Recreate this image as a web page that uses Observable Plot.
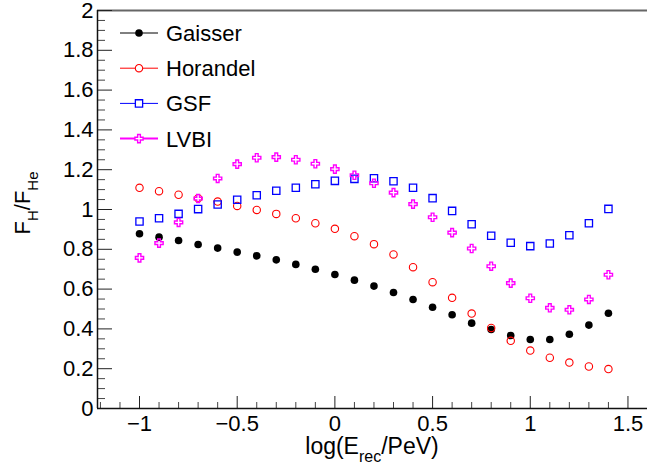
<!DOCTYPE html>
<html><head><meta charset="utf-8">
<script src="https://cdn.jsdelivr.net/npm/d3@7"></script>
<script src="https://cdn.jsdelivr.net/npm/@observablehq/plot@0.6"></script>
<style>
html,body{margin:0;padding:0;background:#fff;}
#chart{position:relative;width:647px;height:470px;}
</style></head><body><div id="chart"></div>
<script>
// ---- data ----
const logE = [-1.0,-0.9,-0.8,-0.7,-0.6,-0.5,-0.4,-0.3,-0.2,-0.1,0.0,0.1,0.2,0.3,0.4,0.5,0.6,0.7,0.8,0.9,1.0,1.1,1.2,1.3,1.4];
const gaisser  = [0.878,0.861,0.844,0.824,0.806,0.786,0.767,0.747,0.724,0.700,0.673,0.645,0.615,0.583,0.548,0.509,0.471,0.429,0.397,0.367,0.347,0.347,0.373,0.419,0.479];
const horandel = [1.109,1.092,1.074,1.057,1.040,1.018,0.998,0.978,0.956,0.931,0.903,0.866,0.826,0.774,0.710,0.635,0.556,0.477,0.405,0.340,0.291,0.255,0.231,0.211,0.198];
const gsf      = [0.940,0.956,0.978,1.002,1.025,1.049,1.072,1.094,1.109,1.127,1.144,1.154,1.157,1.142,1.109,1.057,0.993,0.926,0.868,0.833,0.816,0.829,0.871,0.931,1.003];
const lvbi     = [0.757,0.831,0.935,1.055,1.156,1.228,1.260,1.263,1.250,1.230,1.203,1.172,1.132,1.085,1.027,0.961,0.884,0.804,0.715,0.630,0.554,0.506,0.496,0.548,0.672];
const seriesNames = ["Gaisser","Horandel","GSF","LVBI"];
const xMajor = [-1,-0.5,0,0.5,1,1.5];
const xTickLabels = ["\u22121","\u22120.5","0","0.5","1","1.5"];
const yMajor = [0,0.2,0.4,0.6,0.8,1,1.2,1.4,1.6,1.8,2];
const yTickLabels = ["0","0.2","0.4","0.6","0.8","1","1.2","1.4","1.6","1.8","2"];
const xDomain = [-1.215, 1.6];
const yDomain = [0, 2];

// ---- symbols ----
const openCross = {draw(context, size) {
  const r = Math.sqrt(size / Math.PI), a = r / 3;
  context.moveTo(-a,-r); context.lineTo(a,-r); context.lineTo(a,-a); context.lineTo(r,-a);
  context.lineTo(r,a); context.lineTo(a,a); context.lineTo(a,r); context.lineTo(-a,r);
  context.lineTo(-a,a); context.lineTo(-r,a); context.lineTo(-r,-a); context.lineTo(-a,-a);
  context.closePath();
}};
const styles = [
  {symbol: d3.symbolCircle, r: 3.8, fill: "black", stroke: "none", sw: 0, color: "black", lw: 1},
  {symbol: d3.symbolCircle, r: 3.7, fill: "none", stroke: "#ff0000", sw: 1.1, color: "#ff0000", lw: 1},
  {symbol: d3.symbolSquare, r: 4.1, fill: "none", stroke: "#0000ff", sw: 1.3, color: "#0000ff", lw: 1},
  {symbol: openCross, r: 4.1, fill: "none", stroke: "#ff00ff", sw: 1.4, color: "#ff00ff", lw: 2}
];
const values = [gaisser, horandel, gsf, lvbi];
const rows = [];
values.forEach((vals, s) => logE.forEach((x, i) => rows.push({x, y: vals[i], s})));

const yMinor = d3.range(0, 2.0001, 0.05).map(v => +v.toFixed(2)).filter(v => !yMajor.some(m => Math.abs(m - v) < 1e-9));
const xMinor = d3.range(-1.2, 1.61, 0.1).map(v => +v.toFixed(1)).filter(v => !xMajor.some(m => Math.abs(m - v) < 1e-9));
const fmt = (ticks, labels) => d => labels[ticks.findIndex(t => Math.abs(t - d) < 1e-9)];

const font = "'Liberation Sans', Arial, Helvetica, sans-serif";
const plot = Plot.plot({
  width: 647, height: 470,
  marginLeft: 97, marginRight: 0, marginTop: 10, marginBottom: 62,
  style: {fontFamily: font, fontSize: "22px", background: "white", overflow: "visible", color: "black"},
  x: {domain: xDomain},
  y: {domain: yDomain},
  marks: [
    Plot.ruleY([yDomain[1]], {stroke: "#666", strokeWidth: 2}),
    Plot.axisY({ticks: yMinor, tickSize: -8, tickFormat: () => "", label: null, stroke: "#444"}),
    Plot.axisY({ticks: yMajor, tickSize: -15, tickFormat: () => "", label: null, stroke: "#222"}),
    Plot.axisY({ticks: yMajor, tickSize: 0, tickPadding: 4, tickFormat: fmt(yMajor, yTickLabels), label: null, fontSize: 22}),
    Plot.axisX({ticks: xMinor, tickSize: -6, tickFormat: () => "", label: null, stroke: "#444"}),
    Plot.axisX({ticks: xMajor, tickSize: -12, tickFormat: () => "", label: null, stroke: "#222"}),
    Plot.axisX({ticks: xMajor, tickSize: 0, tickPadding: 7, tickFormat: fmt(xMajor, xTickLabels), label: null, fontSize: 22}),
    Plot.ruleX([xDomain[0]], {stroke: "#111", strokeWidth: 1.5}),
    Plot.ruleY([yDomain[0]], {stroke: "#111", strokeWidth: 1.5}),
    ...styles.map((st, s) => Plot.dot(rows.filter(d => d.s === s), {
      x: "x", y: "y", symbol: st.symbol, r: st.r, fill: st.fill, stroke: st.stroke, strokeWidth: st.sw
    }))
  ]
});
document.getElementById("chart").appendChild(plot);

// ---- legend & titles ----
const svg = d3.select(plot);
const leg = svg.append("g").attr("font-family", font).attr("font-size", 22).attr("text-anchor", "start");
seriesNames.forEach((name, i) => {
  const st = styles[i];
  const y = 33 + i * 35.2;
  leg.append("line").attr("x1", 120).attr("x2", 158).attr("y1", y).attr("y2", y)
    .attr("stroke", st.color).attr("stroke-width", st.lw);
  leg.append("path").attr("transform", `translate(139,${y})`)
    .attr("d", d3.symbol(st.symbol, st.r * st.r * Math.PI)())
    .attr("fill", st.fill === "none" ? "white" : st.fill).attr("stroke", st.stroke).attr("stroke-width", st.sw);
  leg.append("text").attr("x", 166).attr("y", y).attr("dy", "0.36em").attr("fill", "black")
    .attr("text-anchor", "start").text(name);
});

const xt = svg.append("text").attr("font-family", font).attr("font-size", 23)
  .attr("x", 372).attr("y", 454).attr("text-anchor", "middle").attr("fill", "black");
xt.append("tspan").text("log(E");
xt.append("tspan").attr("dy", 8).attr("font-size", 16).text("rec");
xt.append("tspan").attr("dy", -8).text("/PeV)");

const yt = svg.append("text").attr("font-family", font).attr("font-size", 22)
  .attr("transform", "translate(30,203) rotate(-90)").attr("text-anchor", "middle").attr("fill", "black");
yt.append("tspan").text("F");
yt.append("tspan").attr("dy", 8).attr("font-size", 15).text("H");
yt.append("tspan").attr("dy", -8).text("/F");
yt.append("tspan").attr("dy", 8).attr("font-size", 15).text("He");
</script>
</body></html>
